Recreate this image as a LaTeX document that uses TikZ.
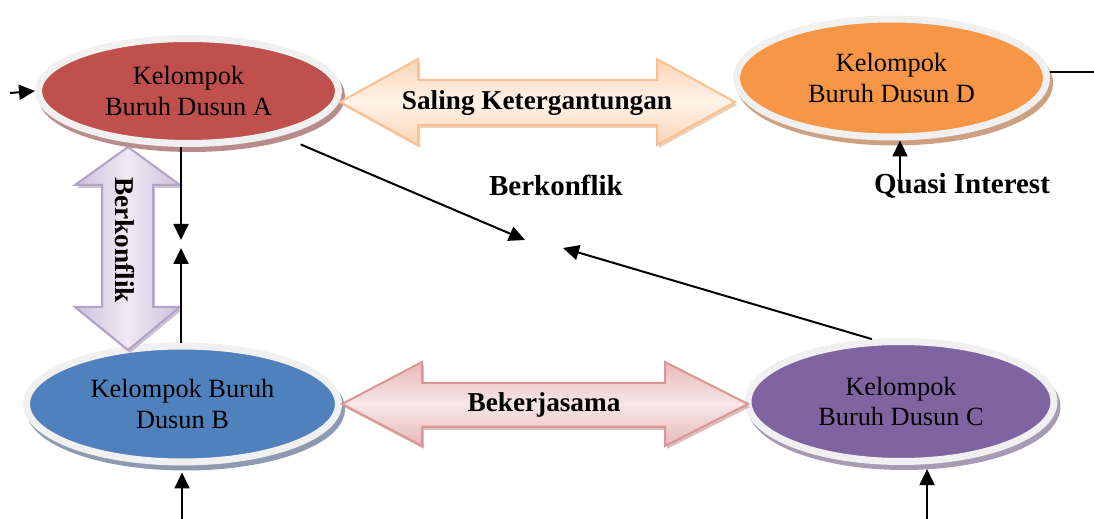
\documentclass[tikz,border=0pt]{standalone}
\usepackage{fontspec}
\setmainfont{Liberation Serif}
\usetikzlibrary{shapes.geometric,arrows.meta}

\definecolor{dusunA}{RGB}{192,80,77}
\definecolor{dusunB}{RGB}{79,129,189}
\definecolor{dusunC}{RGB}{128,100,162}
\definecolor{dusunD}{RGB}{247,150,70}
\definecolor{bayangA}{RGB}{185,140,140}
\definecolor{bayangB}{RGB}{140,155,178}
\definecolor{bayangC}{RGB}{165,155,180}
\definecolor{bayangD}{RGB}{205,160,130}
\definecolor{cincin}{RGB}{240,240,240}
\definecolor{peach}{RGB}{252,213,181}
\definecolor{peachterang}{RGB}{254,242,232}
\definecolor{peachgaris}{RGB}{250,192,143}
\definecolor{merah}{RGB}{230,185,184}
\definecolor{merahterang}{RGB}{247,230,230}
\definecolor{merahgaris}{RGB}{217,150,148}
\definecolor{ungu}{RGB}{204,193,218}
\definecolor{unguterang}{RGB}{238,234,244}
\definecolor{ungugaris}{RGB}{179,162,199}

\begin{document}
\begin{tikzpicture}[x=0.02cm, y=-0.02cm,
  kelompok/.style={ellipse, inner sep=0pt, align=center, draw=cincin,
    line width=0.14cm, fill=#1, font=\fontsize{15}{17.6}\selectfont},
  bayang/.style={preaction={draw=#1, fill=#1, line width=0.14cm,
    transform canvas={xshift=0.06cm, yshift=-0.1cm}}},
  panah/.style={-{Triangle[length=0.32cm, width=0.3cm]}, line width=0.04cm},
  tebal/.style={font=\bfseries\fontsize{16.5}{19}\selectfont},
  labelpanah/.style={font=\bfseries\fontsize{15.5}{18}\selectfont},
  besar/.style n args={3}{draw=#2, line width=0.04cm, top color=#1,
    bottom color=#1, middle color=#3,
    preaction={fill=#2!85!black, opacity=0.5,
      transform canvas={xshift=0.04cm, yshift=-0.06cm}}}]
\useasboundingbox (0,0) rectangle (1094,519);

% kelompok buruh
\node[kelompok=dusunA, bayang=bayangA, minimum width=6cm, minimum height=2.1cm]
  (A) at (188.5,91) {Kelompok\\Buruh Dusun A};
\node[kelompok=dusunD, bayang=bayangD, minimum width=6.2cm, minimum height=2.36cm]
  (D) at (891.5,78) {Kelompok\\Buruh Dusun D};
\node[kelompok=dusunB, bayang=bayangB, minimum width=6.24cm, minimum height=2.32cm]
  (B) at (182.5,404) {Kelompok Buruh\\Dusun B};
\node[kelompok=dusunC, bayang=bayangC, minimum width=6.12cm, minimum height=2.4cm]
  (C) at (901,401.5) {Kelompok\\Buruh Dusun C};

% panah besar
\path[besar={peach}{peachgaris}{peachterang}]
  (340,102) -- (418,59) -- (418,80) -- (657,80) -- (657,59) -- (735,102)
  -- (657,145) -- (657,125) -- (418,125) -- (418,145) -- cycle;
\node[labelpanah] (saling) at (537,103) {Saling Ketergantungan};

\path[besar={merah}{merahgaris}{merahterang}]
  (342,404) -- (422,362) -- (422,383) -- (665,383) -- (665,362) -- (748,404)
  -- (665,446) -- (665,427) -- (422,427) -- (422,446) -- cycle;
\node[labelpanah] (kerja) at (544,405) {Bekerjasama};

\path[besar={ungu}{ungugaris}{unguterang}, shading angle=90]
  (128,147) -- (180,185) -- (153,185) -- (153,307) -- (180,307) -- (128,350)
  -- (75,307) -- (102,307) -- (102,185) -- (75,185) -- cycle;
\node[labelpanah, rotate=-90] (konflikAB) at (125,240) {Berkonflik};

% label
\node[tebal] (konflik) at (556,185) {Berkonflik};
\node[tebal] (quasi) at (962,186) {Quasi Interest};

% titik bebas
\coordinate (ain) at (10,93);
\coordinate (dout) at (1094,72);
\coordinate (mA) at (181,240);
\coordinate (mB) at (181,248);
\coordinate (mAC) at (525,240);
\coordinate (mCA) at (563,248);
\coordinate (qin) at (900,190);
\coordinate (bin) at (182,519);
\coordinate (cin) at (927,519);

% panah tipis
\draw[panah] (ain) -- (A.west);
\draw[line width=0.04cm] (dout -| D.east) -- (dout);
\draw[panah] (mA |- A.south) -- (mA);
\draw[panah] (mB |- B.north) -- (mB);
\draw[panah, shorten <=0.44cm] (A.-26) -- (mAC);
\draw[panah] (C.115) -- (mCA);
\draw[panah] (qin) -- (qin |- D.south);
\draw[panah, shorten >=0.14cm] (bin) -- (bin |- B.south);
\draw[panah, shorten >=0.1cm] (cin) -- (cin |- C.-67);
\end{tikzpicture}
\end{document}
